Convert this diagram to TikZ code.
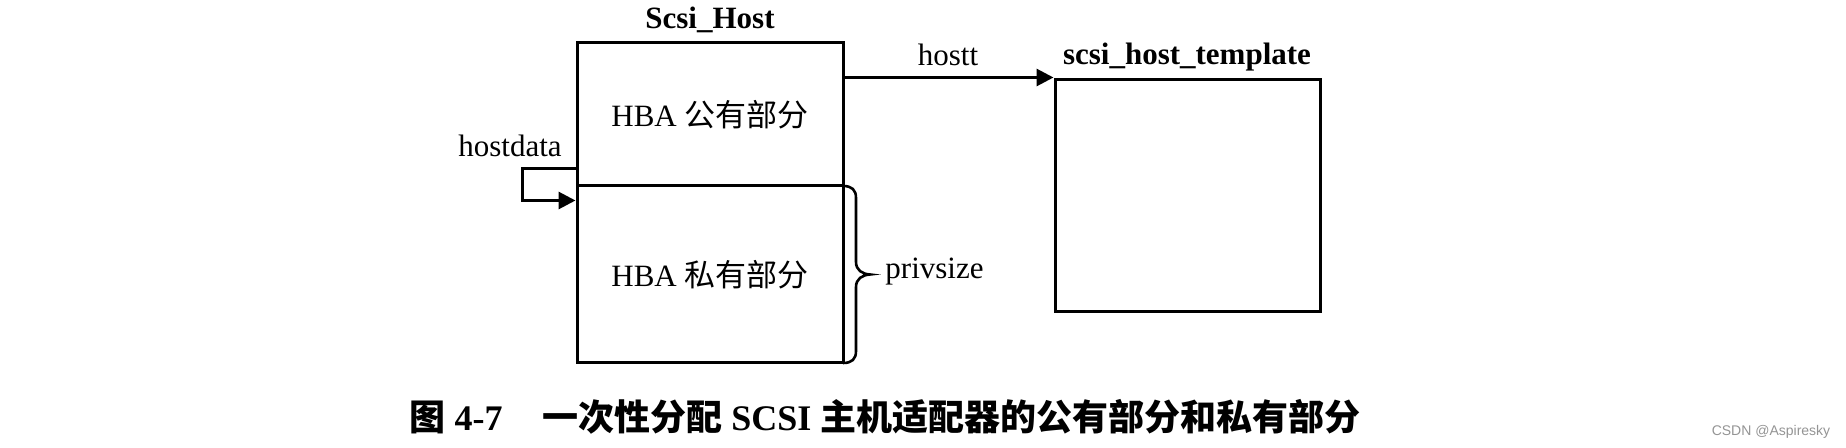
\documentclass[tikz,border=0pt]{standalone}
\usepackage{fontspec}
\setmainfont{Liberation Serif}
\newfontfamily\cjk{Noto Sans CJK SC}
\newfontfamily\wmfont{Liberation Sans}
\usetikzlibrary{arrows.meta,calc}
\begin{document}
\begin{tikzpicture}[x=0.5pt,y=-0.5pt,
  box/.style={draw, line width=1.5pt, inner sep=0pt, font=\fontsize{15.5}{18}\selectfont},
  lbl/.style={inner sep=0pt, font=\fontsize{15.5}{18}\selectfont},
  blbl/.style={inner sep=0pt, font=\fontsize{15.5}{18}\selectfont\bfseries},
  conn/.style={line width=1.5pt, -{Triangle[length=8.5pt,width=8.5pt]}},
  bracestyle/.style={line width=1.3pt, line cap=round},
  captionstyle/.style={inner sep=0pt, font=\fontsize{18}{22}\selectfont\bfseries},
  wmstyle/.style={inner sep=0pt, text=black!42, font=\wmfont\fontsize{7}{8}\selectfont},
]
\useasboundingbox (0,0) rectangle (1846,448);

% boxes
\node[box, minimum width=133pt, minimum height=71.5pt] (pub) at (710,114.5) {HBA {\cjk 公有部分}};
\node[box, minimum width=133pt, minimum height=88.5pt] (priv) at (710,274.5) {HBA {\cjk 私有部分}};
\node[box, minimum width=132.5pt, minimum height=116pt] (tmpl) at (1187.5,196) {};

% labels
\node[blbl] (lhost) at (710,20) {Scsi\_Host};
\node[blbl] (ltmpl) at (1187,57) {scsi\_host\_template};
\node[lbl] (lhostt) at (948,55) {hostt};
\node[lbl] (lhostdata) at (510,146) {hostdata};
\node[lbl] (lpriv) at (934.5,272) {privsize};

% hostt connector
\coordinate (hs) at ([yshift=-18pt]pub.north east);
\draw[conn] (hs) -- (hs -| tmpl.north west);

% hostdata loop
\coordinate (ds) at ([yshift=9.5pt]pub.south west);
\coordinate (de) at ([yshift=-8pt]priv.north west);
\draw[conn] (ds) -- ++(-53,0) |- (de);

% brace
\draw[bracestyle] (843,186) .. controls (852,186) and (856,190) .. (856,198)
  -- (856,262) .. controls (856,270) and (862,274) .. (870,274.5)
  .. controls (862,275) and (856,279) .. (856,287)
  -- (856,351) .. controls (856,359) and (852,363) .. (843,363);

% caption
\node[captionstyle] (cap) at (885,417) {{\cjk 图} 4-7\hspace{1.1em}{\cjk 一次性分配} SCSI {\cjk 主机适配器的公有部分和私有部分}};

% watermark
\node[wmstyle] (wm) at (1771,432) {CSDN @Aspiresky};
\end{tikzpicture}
\end{document}
